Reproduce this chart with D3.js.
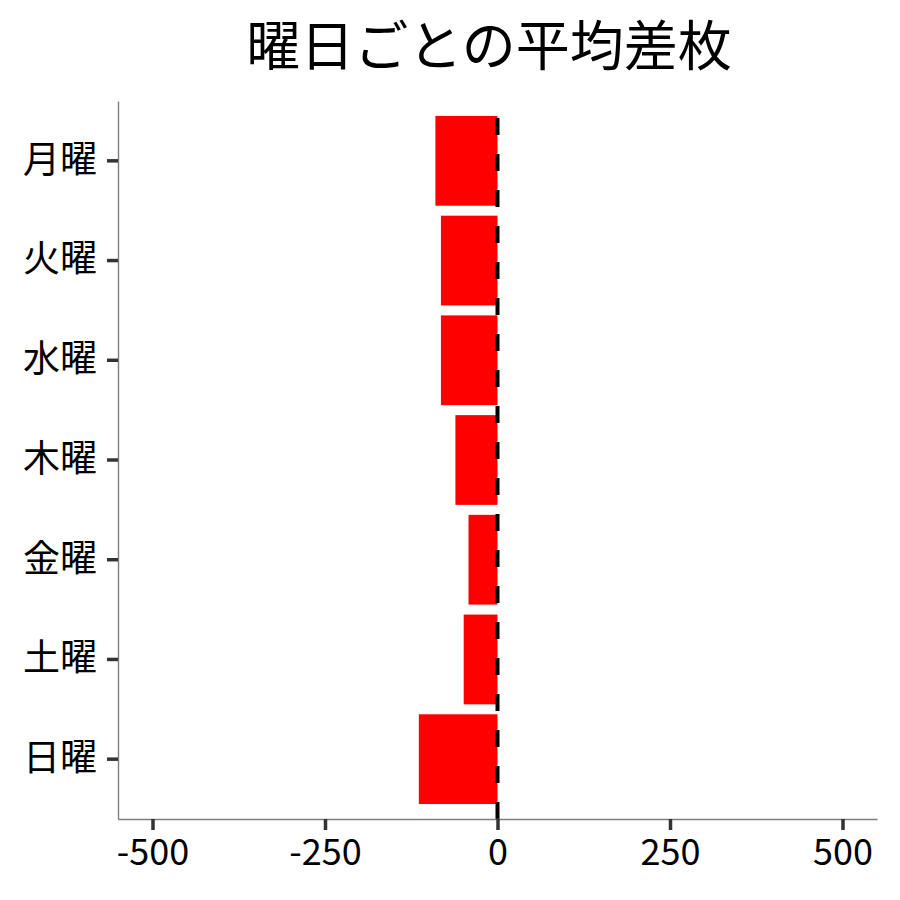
<!DOCTYPE html>
<html>

<head>
    <meta charset="utf-8">
    <title>曜日ごとの平均差枚</title>
    <script src="https://d3js.org/d3.v7.min.js"></script>
    <style>
        body { margin: 0; background: #fff; }
        svg text { font-family: "Noto Sans CJK JP", "Noto Sans", sans-serif; fill: #000; }
    </style>
</head>

<body>
    <div id="chart"></div>

    <script>
        // data
        const days = ["月曜", "火曜", "水曜", "木曜", "金曜", "土曜", "日曜"];
        const avgDiff = [-90, -82, -82, -61, -42, -49, -114];
        const xTicks = [-500, -250, 0, 250, 500];
        const titleText = "曜日ごとの平均差枚";

        const width = 900, height = 900;
        const panel = { left: 118, right: 877, top: 101, bottom: 819 };

        const svg = d3.select("#chart")
            .append("svg")
            .attr("width", width)
            .attr("height", height);

        const x = d3.scaleLinear()
            .domain([-550, 550])
            .range([panel.left, panel.right]);

        const y = d3.scaleBand()
            .domain(days)
            .range([panel.top, panel.bottom])
            .paddingInner(0.1)
            .paddingOuter(0.15);

        const data = days.map((d, i) => ({ day: d, value: avgDiff[i] }));

        // bars
        svg.selectAll("rect.bar")
            .data(data)
            .join("rect")
            .attr("class", "bar")
            .attr("x", d => x(Math.min(0, d.value)))
            .attr("y", d => y(d.day))
            .attr("width", d => Math.abs(x(d.value) - x(0)))
            .attr("height", y.bandwidth())
            .attr("fill", "#ff0000");

        // zero line (dashed), drawn bottom to top
        svg.append("line")
            .attr("x1", x(0)).attr("x2", x(0))
            .attr("y1", panel.bottom).attr("y2", panel.top)
            .attr("stroke", "#000")
            .attr("stroke-width", 4)
            .attr("stroke-dasharray", "17,19");

        // x axis
        const xAxis = svg.append("g")
            .attr("transform", `translate(0, ${panel.bottom})`)
            .call(d3.axisBottom(x).tickValues(xTicks).tickSize(11).tickSizeOuter(0).tickPadding(9));
        xAxis.select(".domain").attr("stroke", "#7f7f7f").attr("stroke-width", 1.4);
        xAxis.selectAll(".tick line").attr("stroke", "#333").attr("stroke-width", 3.5);
        xAxis.selectAll(".tick text")
            .style("font-size", "36px")
            .attr("fill", "#000")
            .text(d => d < 0 ? "-" + Math.abs(d) : d);

        // y axis
        const yAxis = svg.append("g")
            .attr("transform", `translate(${panel.left}, 0)`)
            .call(d3.axisLeft(y).tickSize(11).tickSizeOuter(0).tickPadding(10));
        yAxis.select(".domain").attr("stroke", "#7f7f7f").attr("stroke-width", 1.4);
        yAxis.selectAll(".tick line").attr("stroke", "#333").attr("stroke-width", 3.5);
        yAxis.selectAll(".tick text")
            .style("font-size", "37px")
            .attr("fill", "#000");

        // title
        svg.append("text")
            .attr("x", 489)
            .attr("y", 66)
            .attr("text-anchor", "middle")
            .style("font-size", "54px")
            .text(titleText);
    </script>
</body>

</html>
